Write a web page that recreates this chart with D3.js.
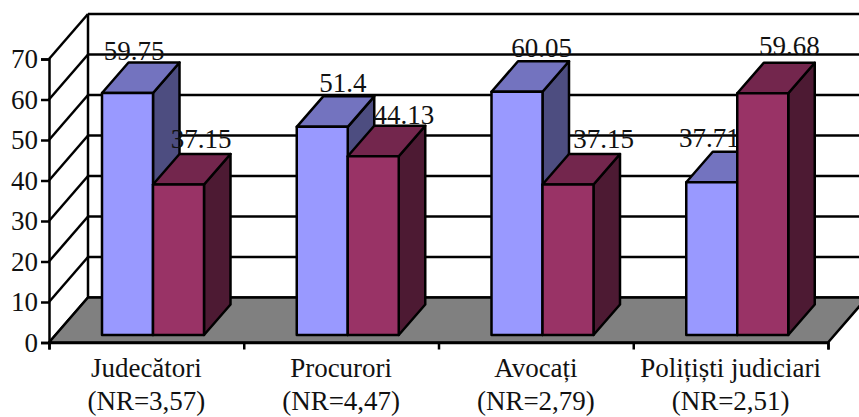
<!DOCTYPE html>
<html>
<head>
<meta charset="utf-8">
<script src="https://cdn.jsdelivr.net/npm/d3@7"></script>
<style>
    html, body { margin: 0; padding: 0; background: #fff; }
    svg { display: block; }
    text { font-family: "Liberation Serif", serif; fill: #111; }
</style>
</head>
<body>
<div id="chart"></div>
<script>
    // Data
    const categories = ["Judecători", "Procurori", "Avocați", "Polițiști judiciari"];
    const nrLabels = ["(NR=3,57)", "(NR=4,47)", "(NR=2,79)", "(NR=2,51)"];
    const seriesA = [59.75, 51.4, 60.05, 37.71];
    const seriesB = [37.15, 44.13, 37.15, 59.68];
    const seriesLabelsA = ["59.75", "51.4", "60.05", "37.71"];
    const seriesLabelsB = ["37.15", "44.13", "37.15", "59.68"];
    const yTicks = [0, 10, 20, 30, 40, 50, 60, 70];

    // Layout of the fake 3D box
    const width = 859, height = 417;
    const plotLeft = 49, plotRight = 828, plotBottom = 342.5, plotTop = 59;
    const depth = { x: 39, y: -45 };       // front plane to back wall
    const barDepth = { x: 26.5, y: -30.5 };
    const barInset = { x: 7, y: -7.5 };    // bars sit a little behind the front plane
    const fontSize = 27;
    const strokeWidth = 2.5;

    // Where the old chart left each data label, relative to the bar front top left
    const labelShiftA = [[32, -33], [46, -35], [50, -35], [23, -35]];
    const labelShiftB = [[48, -37], [56, -32], [61, -37], [52, -38]];

    const colorsA = { front: "#9999FF", top: "#7373BF", side: "#4D4D80" };
    const colorsB = { front: "#993366", top: "#73264D", side: "#4D1A33" };

    const svg = d3.select("#chart")
        .append("svg")
        .attr("width", width)
        .attr("height", height);

    const x = d3.scaleBand().domain(categories).range([plotLeft, plotRight]);
    const xTicks = d3.scaleLinear().domain([0, categories.length]).range([plotLeft, plotRight]);
    const y = d3.scaleLinear().domain([0, 70]).range([plotBottom, plotTop]);
    const series = d3.scaleBand().domain(["a", "b"]).range([46, 148]);

    const line = d3.line();

    // Back wall grid lines
    svg.append("g")
        .selectAll("line")
        .data(yTicks)
        .join("line")
        .attr("x1", plotLeft + depth.x)
        .attr("x2", plotRight + depth.x)
        .attr("y1", d => y(d) + depth.y)
        .attr("y2", d => y(d) + depth.y)
        .attr("stroke", "#000")
        .attr("stroke-width", strokeWidth);

    // Left wall lines
    svg.append("g")
        .selectAll("line")
        .data(yTicks)
        .join("line")
        .attr("x1", plotLeft)
        .attr("x2", plotLeft + depth.x)
        .attr("y1", d => y(d))
        .attr("y2", d => y(d) + depth.y)
        .attr("stroke", "#000")
        .attr("stroke-width", strokeWidth);

    svg.append("line")
        .attr("x1", plotLeft + depth.x).attr("x2", plotLeft + depth.x)
        .attr("y1", y(70) + depth.y).attr("y2", y(0) + depth.y)
        .attr("stroke", "#000").attr("stroke-width", strokeWidth);

    // Floor
    svg.append("path")
        .attr("d", line([
            [plotLeft, y(0)], [plotRight, y(0)],
            [plotRight + depth.x, y(0) + depth.y], [plotLeft + depth.x, y(0) + depth.y]
        ]) + "Z")
        .attr("fill", "#808080")
        .attr("stroke", "#000")
        .attr("stroke-width", strokeWidth);

    // Y axis
    svg.append("g")
        .attr("transform", `translate(${plotLeft},0)`)
        .call(d3.axisLeft(y).tickValues(yTicks).tickSize(8).tickPadding(3))
        .call(g => g.selectAll("path, line").attr("stroke", "#000").attr("stroke-width", strokeWidth))
        .call(g => g.selectAll("text").attr("font-size", fontSize).attr("font-family", "Liberation Serif").attr("fill", "#111"));

    // X axis, ticks on the category boundaries
    svg.append("g")
        .attr("transform", `translate(0,${plotBottom})`)
        .call(d3.axisBottom(xTicks).ticks(categories.length).tickSize(7).tickFormat(""))
        .call(g => g.selectAll("path, line").attr("stroke", "#000").attr("stroke-width", strokeWidth));

    function drawBar(cat, key, value, colors) {
        const x0 = x(cat) + series(key) + barInset.x;
        const x1 = x0 + series.bandwidth();
        const y0 = y(0) + barInset.y;
        const y1 = y(value) + barInset.y;
        const faces = [
            { fill: colors.side, pts: [[x1, y0], [x1 + barDepth.x, y0 + barDepth.y], [x1 + barDepth.x, y1 + barDepth.y], [x1, y1]] },
            { fill: colors.top, pts: [[x0, y1], [x1, y1], [x1 + barDepth.x, y1 + barDepth.y], [x0 + barDepth.x, y1 + barDepth.y]] },
            { fill: colors.front, pts: [[x0, y0], [x1, y0], [x1, y1], [x0, y1]] }
        ];
        svg.append("g")
            .selectAll("path")
            .data(faces)
            .join("path")
            .attr("d", d => line(d.pts) + "Z")
            .attr("fill", d => d.fill)
            .attr("stroke", "#000")
            .attr("stroke-width", strokeWidth)
            .attr("stroke-linejoin", "round");
        return [x0, y1];
    }

    function drawLabel(pos, shift, txt) {
        svg.append("text")
            .attr("x", pos[0] + shift[0])
            .attr("y", pos[1] + shift[1])
            .attr("text-anchor", "middle")
            .attr("font-size", fontSize)
            .text(txt);
    }

    // Blue bar and its label go first, the red bar may cover that label
    categories.forEach(function (cat, i) {
        const posA = drawBar(cat, "a", seriesA[i], colorsA);
        drawLabel(posA, labelShiftA[i], seriesLabelsA[i]);
        const posB = drawBar(cat, "b", seriesB[i], colorsB);
        drawLabel(posB, labelShiftB[i], seriesLabelsB[i]);
    });

    // Category labels
    svg.append("g")
        .selectAll("text")
        .data(categories)
        .join("text")
        .attr("x", d => x(d) + x.bandwidth() / 2)
        .attr("y", 377)
        .attr("text-anchor", "middle")
        .attr("font-size", fontSize)
        .text(d => d);

    svg.append("g")
        .selectAll("text")
        .data(nrLabels)
        .join("text")
        .attr("x", (d, i) => x(categories[i]) + x.bandwidth() / 2)
        .attr("y", 410)
        .attr("text-anchor", "middle")
        .attr("font-size", fontSize)
        .text(d => d);
</script>
</body>
</html>
